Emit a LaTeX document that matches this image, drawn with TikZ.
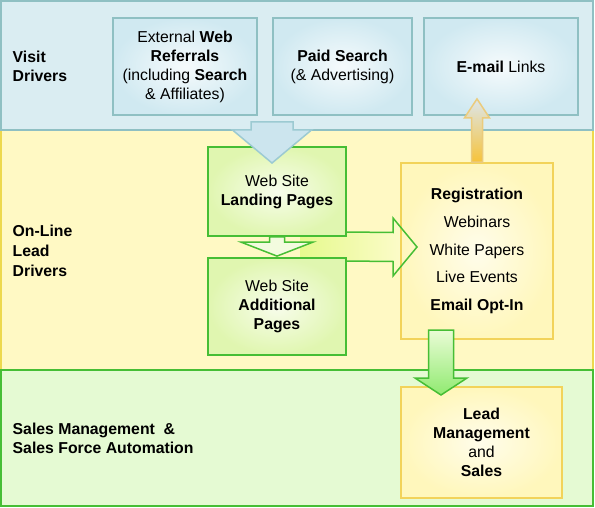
\documentclass[tikz,border=0pt]{standalone}
\usepackage{fontspec}
\setmainfont{Liberation Sans}
\usetikzlibrary{calc}
\definecolor{bluefill}{HTML}{DAEDF2}
\definecolor{blueline}{HTML}{8FC0C3}
\definecolor{boxblue}{HTML}{D0E9F1}
\definecolor{yelfill}{HTML}{FFF9C4}
\definecolor{yelline}{HTML}{EDD94E}
\definecolor{grnfill}{HTML}{E5FAD3}
\definecolor{grnline}{HTML}{46BE35}
\definecolor{boxgrn}{HTML}{E0F6B0}
\definecolor{regline}{HTML}{F2D35A}
\definecolor{regfill}{HTML}{FFF7BC}
\definecolor{arrgreen}{HTML}{90EA70}
\definecolor{arrpale}{HTML}{EAFCD6}
\definecolor{arrorange}{HTML}{F7C339}
\definecolor{arrgray}{HTML}{DCE6EC}
\definecolor{arroutline}{HTML}{EBCB7C}
\definecolor{bluearrfill}{HTML}{CCE5EE}
\definecolor{bluearrline}{HTML}{9CCAD2}
\definecolor{rightleft}{HTML}{E6FA8E}
\definecolor{rightright}{HTML}{FFFBD2}
\newcommand\dgfont{\fontsize{15.8}{19}\selectfont}
\newcommand\regfont{\fontsize{15.8}{27.7}\selectfont}
\newcommand\lblfont{\fontsize{15.8}{19.3}\selectfont\bfseries}
% vertical block arrow: style, start, tip, shaft half, head half, head base offset (signed)
\newcommand\vArrow[6]{%
  \path[#1] ($(#2)+(-#4,0)$) -- ($(#2)+(#4,0)$) -- ($(#3)+(#4,#6)$) -- ($(#3)+(#5,#6)$)
    -- (#3) -- ($(#3)+(-#5,#6)$) -- ($(#3)+(-#4,#6)$) -- cycle;}
\tikzset{
  boxline/.style={line width=1.8pt},
  topbox/.style={boxline, draw=blueline, inner color=white!80!boxblue, outer color=boxblue,
    align=center, font=\dgfont, inner sep=0pt},
  grnbox/.style={boxline, draw=grnline, inner color=white!75!boxgrn, outer color=boxgrn,
    align=center, font=\dgfont, inner sep=0pt},
  yelbox/.style={boxline, draw=regline, inner color=white!70!regfill, outer color=regfill,
    align=center, font=\dgfont, inner sep=0pt},
  lbl/.style={anchor=west, align=left, font=\lblfont, inner sep=0pt},
  bluearr/.style={fill=bluearrfill, draw=bluearrline, line width=1.5pt, line join=miter},
  grnarr/.style={top color=arrpale, bottom color=arrgreen, draw=grnline, line width=1.5pt, line join=miter},
  smallgrnarr/.style={fill=white!60!boxgrn, draw=grnline, line width=1.5pt, line join=miter},
  orangearr/.style={top color=arrgray, bottom color=arrorange, draw=arroutline, line width=1.5pt, line join=miter},
}
\begin{document}
\begin{tikzpicture}[x=1pt,y=-1pt]
\useasboundingbox (0,0) rectangle (595,508);
% bands
\draw[boxline, fill=yelfill, draw=yelline] (1,130) rectangle (593,370);
\draw[boxline, fill=bluefill, draw=blueline] (1,1) rectangle (593,130);
\draw[boxline, fill=grnfill, draw=grnline] (1,370) rectangle (593,506);
% band labels
\node[lbl] (visit) at (12.5,66.5) {Visit\\Drivers};
\node[lbl, font=\fontsize{15.8}{20}\selectfont\bfseries] (online) at (12.5,251) {On-Line\\Lead\\Drivers};
\node[lbl] (sales) at (12.5,438.5) {Sales Management\ \ \&\\Sales Force Automation};
% top boxes
\node[topbox, minimum width=144, minimum height=97] (ext) at (185,66.5)
  {External \textbf{Web}\\\textbf{Referrals}\\(including \textbf{Search}\\\& Affiliates)};
\node[topbox, minimum width=139, minimum height=97] (paid) at (342.5,66.5)
  {\textbf{Paid Search}\\(\& Advertising)};
\node[topbox, minimum width=154, minimum height=97] (email) at (501,66.5)
  {\textbf{E-mail} Links};
% right arrow fill (behind the left boxes)
\coordinate (rstart) at (346,247);
\coordinate (rtip) at (417,247);
\path[left color=rightleft, right color=rightright]
  (300,232) -- ($(rtip)+(-24,-14.5)$) -- ($(rtip)+(-24,-29)$) -- (rtip)
  -- ($(rtip)+(-24,29)$) -- ($(rtip)+(-24,14.5)$) -- (300,261) -- cycle;
% web site boxes
\node[grnbox, minimum width=138, minimum height=89] (land) at (277,191.5)
  {Web Site\\\textbf{Landing Pages}};
\node[grnbox, minimum width=138, minimum height=97] (addl) at (277,306.5)
  {Web Site\\\textbf{Additional}\\\textbf{Pages}};
% right yellow box
\node[yelbox, minimum width=152, minimum height=176, font=\regfont] (reg) at (477,251)
  {\textbf{Registration}\\Webinars\\White Papers\\Live Events\\\textbf{Email Opt-In}};
\node[yelbox, minimum width=161, minimum height=111] (lead) at (481.5,442.5)
  {\textbf{Lead}\\\textbf{Management}\\and\\\textbf{Sales}};
% right arrow outline
\draw[grnline, line width=1.5pt, line join=miter]
  (rstart |- 0,232) -- ($(rtip)+(-24,-14.5)$) -- ($(rtip)+(-24,-29)$) -- (rtip)
  -- ($(rtip)+(-24,29)$) -- ($(rtip)+(-24,14.5)$) -- (rstart |- 0,261);
% blue arrow: external referrals -> landing pages
\coordinate (bstart) at (272,122);
\coordinate (btip) at (272,163);
\vArrow{bluearr}{bstart}{btip}{21}{39.5}{-33}
% small green arrow: landing -> additional
\coordinate (gtip) at ($(addl.north)+(0,-1)$);
\vArrow{smallgrnarr}{land.south}{gtip}{7.5}{36}{-14}
% orange arrow: registration -> e-mail links
\coordinate (otip) at ($(email.south)+(-24,-17)$);
\coordinate (ostart) at (otip |- reg.north);
\vArrow{orangearr}{ostart}{otip}{5.5}{12.5}{19}
% green arrow: registration -> lead management
\coordinate (dstart) at (441,330);
\coordinate (dtip) at (441,395);
\vArrow{grnarr}{dstart}{dtip}{12.5}{26}{-17}
\end{tikzpicture}
\end{document}
